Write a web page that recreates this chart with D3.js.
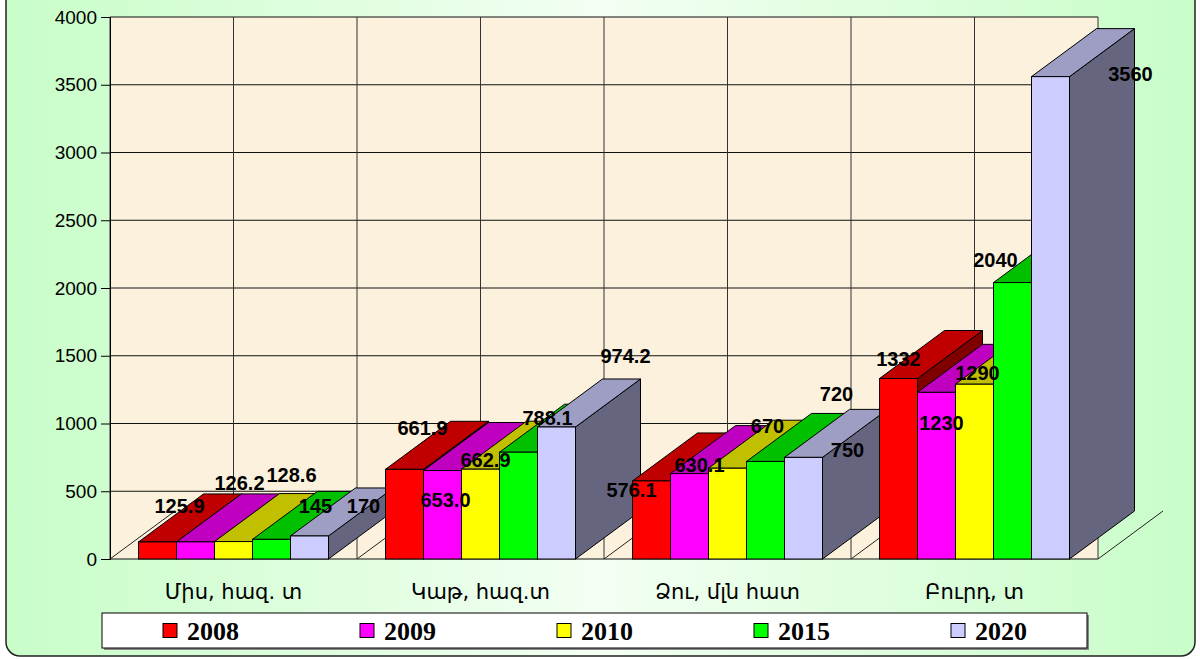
<!DOCTYPE html>
<html>
<head>
<meta charset="utf-8">
<script src="https://cdn.jsdelivr.net/npm/d3@7/dist/d3.min.js"></script>
<style>
  html, body { margin: 0; padding: 0; background: #fff; }
  svg { display: block; }
</style>
</head>
<body>
<div id="chart"></div>
<script>
// Chart data
const categories = ['Միս, հազ. տ', 'Կաթ, հազ.տ', 'Ձու, մլն հատ', 'Բուրդ, տ']
const years = ['2008', '2009', '2010', '2015', '2020']
const values2008 = [125.9, 661.9, 576.1, 1332]
const values2009 = [126.2, 653.0, 630.1, 1230]
const values2010 = [128.6, 662.9, 670, 1290]
const values2015 = [145, 788.1, 720, 2040]
const values2020 = [170, 974.2, 750, 3560]
const valueLabels = [
  ['125.9', '661.9', '576.1', '1332'],
  ['126.2', '653.0', '630.1', '1230'],
  ['128.6', '662.9', '670', '1290'],
  ['145', '788.1', '720', '2040'],
  ['170', '974.2', '750', '3560']
]
const yTicks = [0, 500, 1000, 1500, 2000, 2500, 3000, 3500, 4000]

// label nudges (px) from the front-top centre of each bar, [series][category]
const labelNudge = [
  [[22, -36], [18, -41], [-20, 9], [0, -20]],
  [[44, -59], [3, 29], [10, -9], [5, 31]],
  [[58, -67], [5, -9], [40, -42], [3, -11]],
  [[44, -33], [29, -34], [71, -67], [-17, -23]],
  [[54, -30], [69, -71], [44, -7], [80, -3]]
]

const series = [values2008, values2009, values2010, values2015, values2020]

const width = 1200,
      height = 659,
      plotLeft = 110,
      plotRight = 1098,
      plotTop = 17,
      plotBottom = 559,
      depthX = 65,
      depthY = 48

const front = ['#ff0000', '#ff00ff', '#ffff00', '#00ff00', '#ccccff']
const topFace = ['#c00000', '#c000c0', '#c0c000', '#00c000', '#9e9ec4']
const sideFace = ['#800000', '#800080', '#808000', '#008000', '#656580']

let svg = d3.select('#chart')
  .append('svg')
  .attr('width', width)
  .attr('height', height)

// background frame
let defs = svg.append('defs')
let grad = defs.append('linearGradient')
  .attr('id', 'bg')
  .attr('x1', 0).attr('x2', 1).attr('y1', 0).attr('y2', 0)
grad.append('stop').attr('offset', '0%').attr('stop-color', '#c8fdc8')
grad.append('stop').attr('offset', '50%').attr('stop-color', '#f3fff3')
grad.append('stop').attr('offset', '100%').attr('stop-color', '#c8fdc8')

svg.append('rect')
  .attr('x', 6).attr('y', -20)
  .attr('width', 1189).attr('height', 676)
  .attr('rx', 14)
  .attr('fill', 'url(#bg)')
  .attr('stroke', '#222')
  .attr('stroke-width', 1.5)

// scales
const xScale = d3.scaleBand()
  .domain(categories)
  .range([plotLeft, plotRight])

const xInner = d3.scaleBand()
  .domain(years)
  .range([0, xScale.bandwidth()])
  .paddingOuter(0.75)

const yScale = d3.scaleLinear()
  .domain([0, 4000])
  .range([plotBottom, plotTop])

// plot area
svg.append('rect')
  .attr('x', plotLeft).attr('y', plotTop)
  .attr('width', plotRight - plotLeft).attr('height', plotBottom - plotTop)
  .attr('fill', '#fcf1dc')

// grid lines
const vGrid = d3.range(0, categories.length * 2 + 1).map(i => plotLeft + i * xScale.bandwidth() / 2)

svg.append('g')
  .selectAll('line')
  .data(yTicks)
  .enter()
  .append('line')
  .attr('x1', plotLeft).attr('x2', plotRight)
  .attr('y1', d => yScale(d)).attr('y2', d => yScale(d))
  .attr('stroke', '#111')
  .attr('stroke-width', 1)

svg.append('g')
  .selectAll('line')
  .data(vGrid)
  .enter()
  .append('line')
  .attr('x1', d => d).attr('x2', d => d)
  .attr('y1', plotTop).attr('y2', plotBottom)
  .attr('stroke', '#333')
  .attr('stroke-width', 1)

// floor lines
svg.append('g')
  .selectAll('line')
  .data(vGrid)
  .enter()
  .append('line')
  .attr('x1', d => d).attr('x2', d => d + depthX)
  .attr('y1', plotBottom).attr('y2', plotBottom - depthY)
  .attr('stroke', '#222')
  .attr('stroke-width', 1)

// y axis
let yAxis = d3.axisLeft(yScale)
  .tickValues(yTicks)
  .tickSize(9)
  .tickPadding(4)
  .tickFormat(d3.format('d'))

let axisG = svg.append('g')
  .attr('transform', `translate(${plotLeft},0)`)
  .call(yAxis)
axisG.select('.domain').attr('stroke', '#000')
axisG.selectAll('.tick line').attr('stroke', '#000')
axisG.selectAll('.tick text')
  .attr('fill', '#000')
  .style('font-family', 'Arial, "Liberation Sans", sans-serif')
  .style('font-size', '19px')

// bars, drawn left to right
const bars = []
categories.forEach((c, ci) => {
  years.forEach((y, si) => {
    bars.push({ c: c, ci: ci, y: y, si: si, v: series[si][ci] })
  })
})

const bw = xInner.bandwidth()

let barG = svg.append('g')
  .selectAll('g')
  .data(bars)
  .enter()
  .append('g')

barG.append('path')
  .attr('d', d => {
    const x0 = xScale(d.c) + xInner(d.y) + bw, yt = yScale(d.v)
    return `M${x0},${yt}L${x0 + depthX},${yt - depthY}L${x0 + depthX},${plotBottom - depthY}L${x0},${plotBottom}Z`
  })
  .attr('fill', d => sideFace[d.si])
  .attr('stroke', '#000')
  .attr('stroke-linejoin', 'round')

barG.append('path')
  .attr('d', d => {
    const x0 = xScale(d.c) + xInner(d.y), yt = yScale(d.v)
    return `M${x0},${yt}L${x0 + depthX},${yt - depthY}L${x0 + bw + depthX},${yt - depthY}L${x0 + bw},${yt}Z`
  })
  .attr('fill', d => topFace[d.si])
  .attr('stroke', '#000')
  .attr('stroke-linejoin', 'round')

barG.append('rect')
  .attr('x', d => xScale(d.c) + xInner(d.y))
  .attr('y', d => yScale(d.v))
  .attr('width', bw)
  .attr('height', d => plotBottom - yScale(d.v))
  .attr('fill', d => front[d.si])
  .attr('stroke', '#000')

// value labels
svg.append('g')
  .selectAll('text')
  .data(bars)
  .enter()
  .append('text')
  .attr('x', d => xScale(d.c) + xInner(d.y) + bw / 2 + labelNudge[d.si][d.ci][0])
  .attr('y', d => yScale(d.v) + labelNudge[d.si][d.ci][1])
  .attr('text-anchor', 'middle')
  .attr('dominant-baseline', 'central')
  .style('font-family', 'Arial, "Liberation Sans", sans-serif')
  .style('font-weight', 'bold')
  .style('font-size', '20px')
  .text(d => valueLabels[d.si][d.ci])

// category labels
svg.append('g')
  .selectAll('text')
  .data(categories)
  .enter()
  .append('text')
  .attr('x', d => xScale(d) + xScale.bandwidth() / 2)
  .attr('y', 592)
  .attr('text-anchor', 'middle')
  .attr('dominant-baseline', 'central')
  .style('font-family', '"DejaVu Sans", sans-serif')
  .style('font-size', '21px')
  .text(d => d)

// legend
const legX = 102, legY = 613, legW = 985, legH = 35
svg.append('rect')
  .attr('x', legX + 2).attr('y', legY + 2)
  .attr('width', legW).attr('height', legH)
  .attr('fill', '#888')
svg.append('rect')
  .attr('x', legX).attr('y', legY)
  .attr('width', legW).attr('height', legH)
  .attr('fill', '#fff')
  .attr('stroke', '#000')

const legScale = d3.scaleBand()
  .domain(years)
  .range([legX, legX + legW])

let legItem = svg.append('g')
  .selectAll('g')
  .data(years)
  .enter()
  .append('g')
  .attr('transform', d => `translate(${legScale(d) + 61},${legY + legH / 2})`)

legItem.append('rect')
  .attr('x', 0).attr('y', -7)
  .attr('width', 14).attr('height', 14)
  .attr('fill', (d, i) => front[i])
  .attr('stroke', '#000')

legItem.append('text')
  .attr('x', 24)
  .attr('y', 1)
  .attr('dominant-baseline', 'central')
  .style('font-family', '"Times New Roman", "Liberation Serif", serif')
  .style('font-weight', 'bold')
  .style('font-size', '26px')
  .text(d => d)
</script>
</body>
</html>
